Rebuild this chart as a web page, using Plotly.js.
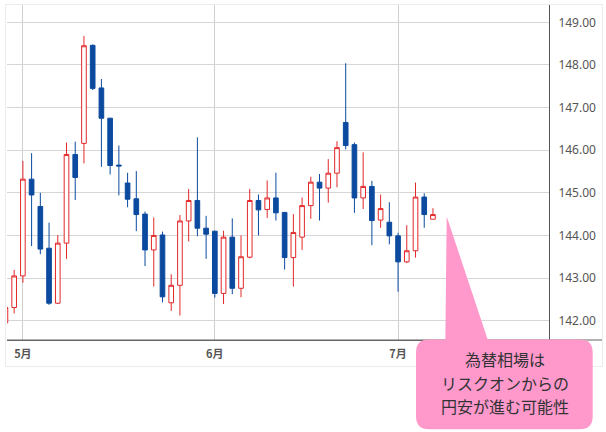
<!DOCTYPE html>
<html><head><meta charset="utf-8">
<script src="https://cdn.plot.ly/plotly-3.0.1.min.js"></script>
<style>html,body{margin:0;padding:0;background:#fff;}#chart{width:606px;height:432px;}</style>
</head><body><div id="chart"></div>
<script>
const dates = ["2025-04-29","2025-04-30","2025-05-01","2025-05-02","2025-05-05","2025-05-06","2025-05-07","2025-05-08","2025-05-09","2025-05-12","2025-05-13","2025-05-14","2025-05-15","2025-05-16","2025-05-19","2025-05-20","2025-05-21","2025-05-22","2025-05-23","2025-05-26","2025-05-27","2025-05-28","2025-05-29","2025-05-30","2025-06-02","2025-06-03","2025-06-04","2025-06-05","2025-06-06","2025-06-09","2025-06-10","2025-06-11","2025-06-12","2025-06-13","2025-06-16","2025-06-17","2025-06-18","2025-06-19","2025-06-20","2025-06-23","2025-06-24","2025-06-25","2025-06-26","2025-06-27","2025-06-30","2025-07-01","2025-07-02","2025-07-03","2025-07-04","2025-07-07"];
const openV  = [141.95,142.31,143.05,145.32,144.68,143.70,142.41,143.82,145.90,146.16,148.46,147.46,146.75,145.65,145.23,144.86,144.50,143.66,144.01,142.42,142.83,144.34,144.82,144.17,144.10,142.64,143.96,142.76,143.49,144.82,144.61,144.88,144.54,143.48,143.96,144.70,145.25,145.11,145.46,146.65,146.13,144.88,145.15,144.36,144.31,143.99,143.38,143.64,144.90,144.38];
const highV  = [142.40,143.19,145.75,145.93,145.00,144.30,144.01,146.18,146.20,148.68,148.48,147.67,146.76,146.11,145.47,145.51,144.56,144.42,144.09,143.09,144.48,145.09,146.30,144.46,144.11,144.11,144.40,144.00,145.09,144.96,145.29,145.47,144.55,144.50,144.89,145.38,145.44,145.79,146.21,148.04,146.18,145.95,145.28,144.96,144.78,144.06,144.24,145.24,144.99,144.64];
const lowV   = [141.90,142.17,142.89,143.75,143.56,142.37,142.39,143.45,144.83,145.69,147.41,145.61,145.43,144.94,144.66,144.10,143.28,142.80,142.43,142.23,142.12,143.86,143.98,143.45,142.54,142.39,142.62,142.55,143.46,144.00,144.41,144.35,143.20,142.80,143.66,144.39,144.35,144.77,145.13,146.02,144.53,144.62,143.77,144.18,143.79,142.68,143.35,143.48,144.18,144.38];
const closeV = [142.31,143.05,145.32,144.95,143.68,142.41,143.82,145.90,145.36,148.45,147.45,146.75,145.64,145.63,144.85,144.49,143.66,144.00,142.56,142.83,144.34,144.82,144.17,144.03,142.64,143.96,142.76,143.50,144.82,144.60,144.88,144.53,143.48,144.07,144.70,145.25,145.11,145.46,146.06,146.11,144.88,145.15,144.35,144.63,143.99,143.38,143.64,144.90,144.49,144.49];
const monthTickDates = ["2025-05-01","2025-06-02","2025-07-01"];
const monthTickText = ["5月","6月","7月"];
const yTicks = [142,143,144,145,146,147,148,149];
const calloutLines = ["為替相場は","リスクオンからの","円安が進む可能性"];

// layout geometry (pixels) -> paper coords
const L = 7, R = 549, T = 5, B = 340;
const px = x => (x - L) / (R - L);
const py = y => (B - y) / (B - T);

const red = '#e2282a', blue = '#0b4a9f', pink = '#ff99cc';

const trace = {
  type: 'candlestick', x: dates, open: openV, high: highV, low: lowV, close: closeV,
  increasing: {line: {color: red, width: 1}, fillcolor: '#ffffff'},
  decreasing: {line: {color: blue, width: 1}, fillcolor: blue},
  whiskerwidth: 0, hoverinfo: 'skip', showlegend: false
};

// rounded rectangle path
function rr(x0, y0, x1, y1, r) {
  const P = (x, y) => px(x) + ',' + py(y);
  return 'M' + P(x0 + r, y0) + ' L' + P(x1 - r, y0) + ' Q' + P(x1, y0) + ' ' + P(x1, y0 + r) +
    ' L' + P(x1, y1 - r) + ' Q' + P(x1, y1) + ' ' + P(x1 - r, y1) +
    ' L' + P(x0 + r, y1) + ' Q' + P(x0, y1) + ' ' + P(x0, y1 - r) +
    ' L' + P(x0, y0 + r) + ' Q' + P(x0, y0) + ' ' + P(x0 + r, y0) + ' Z';
}
const P = (x, y) => px(x) + ',' + py(y);

const shapes = [
  // outer panel frame
  {type: 'rect', xref: 'paper', yref: 'paper', x0: px(5.5), x1: px(602.5), y0: py(366.5), y1: py(4.5),
   line: {color: '#ececec', width: 1}, fillcolor: 'rgba(0,0,0,0)', layer: 'below'},
  // bottom axis line extension under y labels
  {type: 'line', xref: 'paper', yref: 'paper', x0: 0, x1: px(602), y0: 0, y1: 0,
   line: {color: '#666', width: 1.2}},
  // callout pointer
  {type: 'path', xref: 'paper', yref: 'paper',
   path: 'M' + P(446.7, 216.5) + ' L' + P(489.5, 345) + ' L' + P(445.3, 345) + ' Z',
   fillcolor: pink, line: {width: 0}},
  // callout box
  {type: 'path', xref: 'paper', yref: 'paper', path: rr(416, 339.5, 592.7, 429.3, 13),
   fillcolor: pink, line: {width: 0}}
];

const lineY = [359, 383, 406.5];
const annotations = calloutLines.map((t, i) => ({
  xref: 'paper', yref: 'paper', x: px(505), y: py(lineY[i]), xanchor: 'center', yanchor: 'middle',
  text: t, showarrow: false,
  font: {family: 'Noto Sans CJK JP, sans-serif', size: 16, color: '#333'}
}));

const layout = {
  width: 606, height: 432,
  margin: {l: L, r: 606 - R, t: T, b: 432 - B, pad: 0},
  paper_bgcolor: '#fff', plot_bgcolor: '#fff',
  boxgap: 0.24,
  xaxis: {
    type: 'category', range: [0.18, 62.3], rangeslider: {visible: false},
    tickvals: monthTickDates, ticktext: monthTickText,
    showgrid: true, gridcolor: '#cfcfcf', gridwidth: 1,
    showline: true, linecolor: '#666', linewidth: 1.2,
    ticks: '', ticklabelstandoff: 4,
    tickfont: {family: 'Noto Sans CJK JP, sans-serif', size: 11, color: '#555', weight: 'bold'},
    fixedrange: true, zeroline: false
  },
  yaxis: {
    side: 'right', range: [141.547, 149.406],
    tickvals: yTicks, tickformat: '.2f',
    showgrid: true, gridcolor: '#d6d6d6', gridwidth: 1,
    showline: true, linecolor: '#555', linewidth: 1,
    ticks: '', ticklabelstandoff: 6,
    tickfont: {family: 'Noto Sans, sans-serif', size: 12, color: '#555'},
    fixedrange: true, zeroline: false
  },
  shapes: shapes,
  annotations: annotations,
  hovermode: false, showlegend: false
};

Plotly.newPlot('chart', [trace], layout, {displayModeBar: false, staticPlot: true});
</script>
</body></html>
